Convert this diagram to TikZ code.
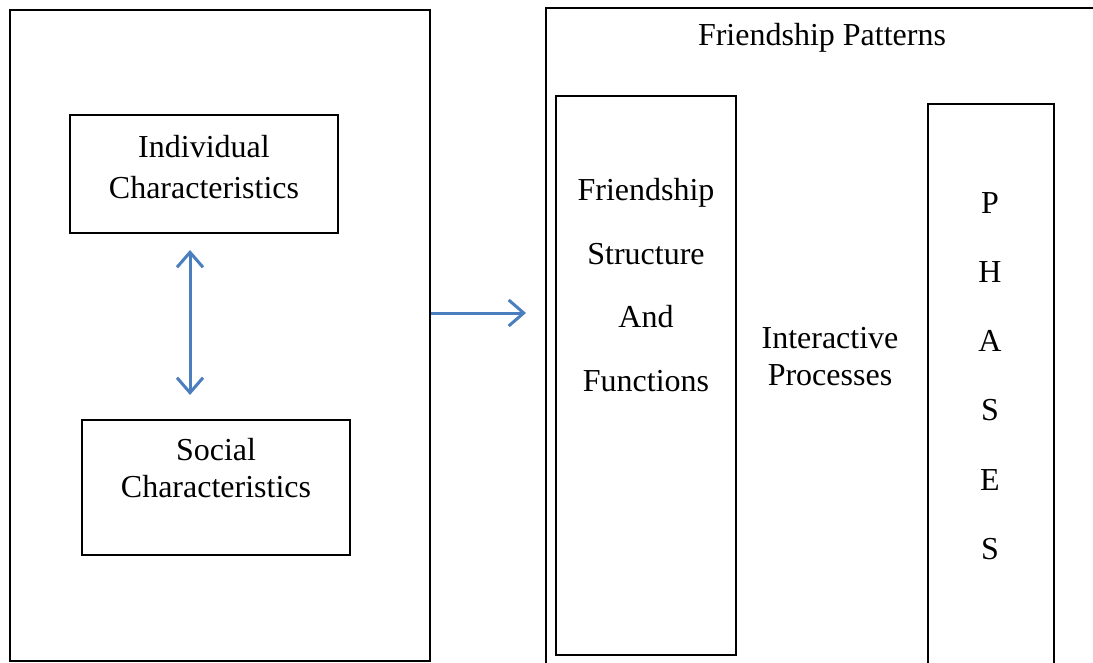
\documentclass[tikz,border=0pt]{standalone}
\usepackage{fontspec}
\setmainfont{Liberation Serif}
\usetikzlibrary{arrows.meta}
\definecolor{arrowblue}{RGB}{74,126,190}
\tikzset{
    box/.style={draw, line width=2pt, inner sep=0pt},
    label text/.style={font=\fontsize{32}{41}\selectfont, align=center},
    link/.style={draw=arrowblue, line width=3pt,
        >={Straight Barb[length=15pt,width=26pt,line width=3pt]}},
}

\begin{document}
\begin{tikzpicture}[x=1pt, y=-1pt]
    \clip (0,0) rectangle (1093,663);
    \fill[white] (0,0) rectangle (1093,663);
    % left block
    \node[box, minimum width=420, minimum height=651] (outer) at (220,335.5) {};
    \node[box, minimum width=268, minimum height=118] (indiv) at (204,174) {};
    \node[label text] (indivtxt) at (204,167) {Individual\\Characteristics};
    \node[box, minimum width=268, minimum height=135] (social) at (216,487.5) {};
    \node[label text, font=\fontsize{32}{37}\selectfont] (socialtxt) at (216,468) {Social\\Characteristics};
    \coordinate (up) at (190,250);
    \coordinate (down) at (190,395);
    \draw[link, <->] (up) -- (down);
    % right block
    \coordinate (tip) at (526,313);
    \draw[link, ->] (outer.east |- tip) -- (tip);
    \node[box, minimum width=564, minimum height=672] (patterns) at (828,344) {};
    \node[label text] (title) at (822,38) {Friendship Patterns};
    \node[box, minimum width=180, minimum height=559] (struct) at (646,375.5) {};
    \node[label text, font=\fontsize{32}{63.5}\selectfont] (structtxt) at (646,285) {Friendship\\Structure\\And\\Functions};
    \node[label text, font=\fontsize{32}{37}\selectfont] (inter) at (830,357) {Interactive\\Processes};
    \node[box, minimum width=126, minimum height=576] (phases) at (991,392) {};
    \node[label text, font=\fontsize{32}{69.2}\selectfont] (phasetxt) at (990,376) {P\\H\\A\\S\\E\\S};
\end{tikzpicture}
\end{document}
